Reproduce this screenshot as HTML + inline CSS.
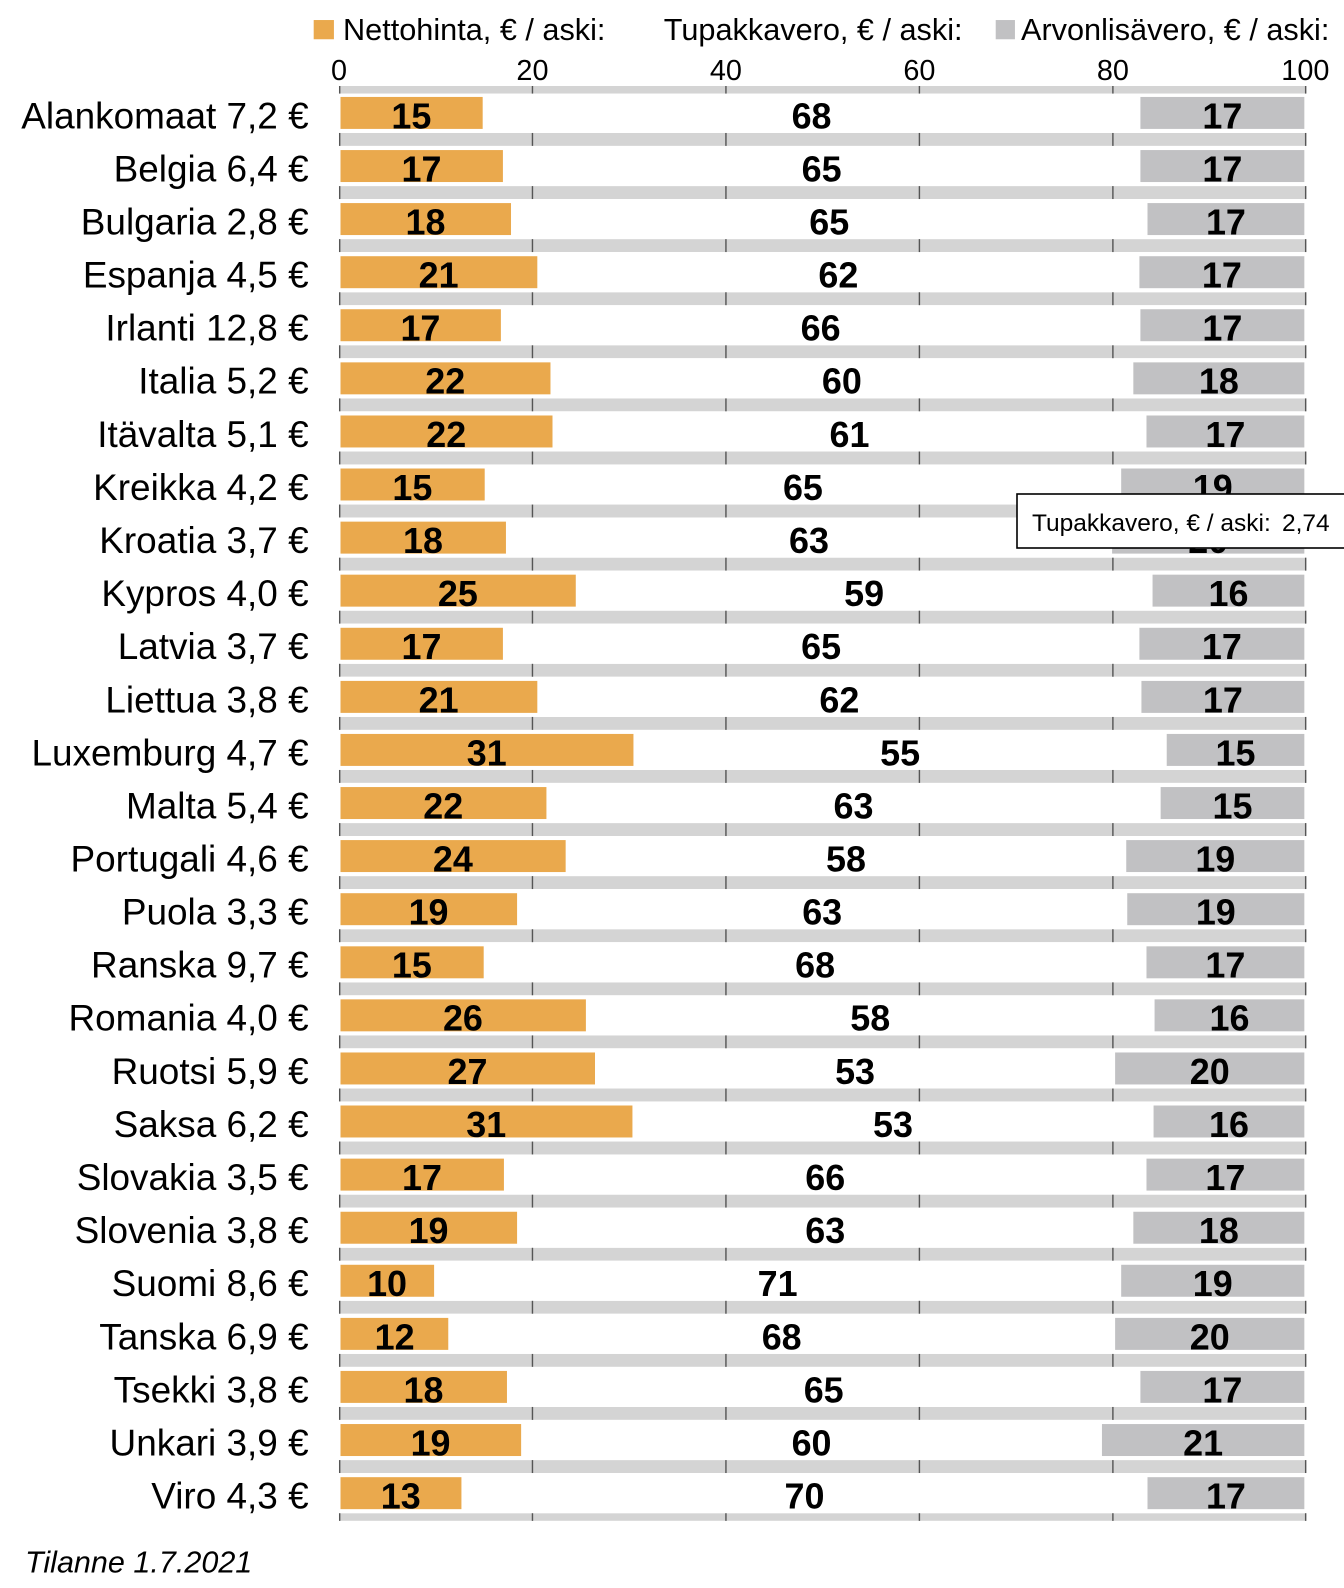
<!DOCTYPE html>
<html><head><meta charset="utf-8"><style>
html,body{margin:0;padding:0;background:#fff;}
svg{display:block;font-family:"Liberation Sans",Arial,sans-serif;}
.c{font-size:36.5px;text-anchor:end;}
.v{font-size:35.5px;font-weight:bold;text-anchor:middle;}
.o{fill:#eaa94d;}
.g{fill:#c1c1c3;}
</style></head><body>
<svg width="1344" height="1588" viewBox="0 0 1344 1588" xmlns="http://www.w3.org/2000/svg">
<rect width="1344" height="1588" fill="#fff"/>
<g transform="scale(1.0119)">
<rect x="310" y="19.8" width="20" height="19" fill="#eaa94d"/>
<text x="339" y="39.5" font-size="30.3">Nettohinta, € / aski:</text>
<text x="656" y="39.5" font-size="30.3">Tupakkavero, € / aski:</text>
<rect x="984" y="19.8" width="19" height="19" fill="#c1c1c3"/>
<text x="1009" y="39.5" font-size="30.3">Arvonlisävero, € / aski:</text>
<g font-size="28.5" text-anchor="middle">
<text x="335" y="79">0</text><text x="526.2" y="79">20</text><text x="717.4" y="79">40</text><text x="908.6" y="79">60</text><text x="1099.8" y="79">80</text><text x="1290" y="79">100</text>
</g>
<rect x="335" y="85" width="956" height="7.5" fill="#d4d4d4"/>
<g fill="#d4d4d4">
<rect x="335" y="131.4" width="956" height="12.8"/>
<rect x="335" y="183.9" width="956" height="12.8"/>
<rect x="335" y="236.3" width="956" height="12.8"/>
<rect x="335" y="288.8" width="956" height="12.8"/>
<rect x="335" y="341.2" width="956" height="12.8"/>
<rect x="335" y="393.7" width="956" height="12.8"/>
<rect x="335" y="446.2" width="956" height="12.8"/>
<rect x="335" y="498.6" width="956" height="12.8"/>
<rect x="335" y="551.1" width="956" height="12.8"/>
<rect x="335" y="603.5" width="956" height="12.8"/>
<rect x="335" y="656.0" width="956" height="12.8"/>
<rect x="335" y="708.5" width="956" height="12.8"/>
<rect x="335" y="760.9" width="956" height="12.8"/>
<rect x="335" y="813.4" width="956" height="12.8"/>
<rect x="335" y="865.8" width="956" height="12.8"/>
<rect x="335" y="918.3" width="956" height="12.8"/>
<rect x="335" y="970.8" width="956" height="12.8"/>
<rect x="335" y="1023.2" width="956" height="12.8"/>
<rect x="335" y="1075.7" width="956" height="12.8"/>
<rect x="335" y="1128.1" width="956" height="12.8"/>
<rect x="335" y="1180.6" width="956" height="12.8"/>
<rect x="335" y="1233.1" width="956" height="12.8"/>
<rect x="335" y="1285.5" width="956" height="12.8"/>
<rect x="335" y="1338.0" width="956" height="12.8"/>
<rect x="335" y="1390.4" width="956" height="12.8"/>
<rect x="335" y="1442.9" width="956" height="12.8"/>
<rect x="335" y="1495.4" width="956" height="7.5"/>
</g>
<g stroke="#555" stroke-width="1.4">
<line x1="335.7" y1="85" x2="335.7" y2="1503"/><line x1="526.2" y1="85" x2="526.2" y2="1503"/><line x1="717.4" y1="85" x2="717.4" y2="1503"/><line x1="908.6" y1="85" x2="908.6" y2="1503"/><line x1="1099.8" y1="85" x2="1099.8" y2="1503"/><line x1="1290.3" y1="85" x2="1290.3" y2="1503"/>
</g>
<g fill="#fff">
<rect x="330" y="92.5" width="965" height="38.9"/>
<rect x="330" y="144.2" width="965" height="39.7"/>
<rect x="330" y="196.7" width="965" height="39.6"/>
<rect x="330" y="249.1" width="965" height="39.7"/>
<rect x="330" y="301.6" width="965" height="39.6"/>
<rect x="330" y="354.0" width="965" height="39.7"/>
<rect x="330" y="406.5" width="965" height="39.7"/>
<rect x="330" y="459.0" width="965" height="39.6"/>
<rect x="330" y="511.4" width="965" height="39.7"/>
<rect x="330" y="563.9" width="965" height="39.6"/>
<rect x="330" y="616.3" width="965" height="39.7"/>
<rect x="330" y="668.8" width="965" height="39.7"/>
<rect x="330" y="721.3" width="965" height="39.6"/>
<rect x="330" y="773.7" width="965" height="39.7"/>
<rect x="330" y="826.2" width="965" height="39.6"/>
<rect x="330" y="878.6" width="965" height="39.7"/>
<rect x="330" y="931.1" width="965" height="39.7"/>
<rect x="330" y="983.6" width="965" height="39.6"/>
<rect x="330" y="1036.0" width="965" height="39.7"/>
<rect x="330" y="1088.5" width="965" height="39.6"/>
<rect x="330" y="1140.9" width="965" height="39.7"/>
<rect x="330" y="1193.4" width="965" height="39.7"/>
<rect x="330" y="1245.9" width="965" height="39.6"/>
<rect x="330" y="1298.3" width="965" height="39.7"/>
<rect x="330" y="1350.8" width="965" height="39.6"/>
<rect x="330" y="1403.2" width="965" height="39.7"/>
<rect x="330" y="1455.7" width="965" height="39.7"/>
</g>

<g transform="translate(0,95.8)"><text class="c" x="305" y="31">Alankomaat 7,2 €</text><rect class="o" x="336.5" y="0" width="140.5" height="31.6"/><rect class="g" x="1127" y="0" width="162" height="31.6"/><text class="v" x="406.5" y="31">15</text><text class="v" x="802" y="31">68</text><text class="v" x="1208" y="31">17</text></g>
<g transform="translate(0,148.3)"><text class="c" x="305" y="31">Belgia 6,4 €</text><rect class="o" x="336.5" y="0" width="160.5" height="31.6"/><rect class="g" x="1127" y="0" width="162" height="31.6"/><text class="v" x="416.5" y="31">17</text><text class="v" x="812" y="31">65</text><text class="v" x="1208" y="31">17</text></g>
<g transform="translate(0,200.7)"><text class="c" x="305" y="31">Bulgaria 2,8 €</text><rect class="o" x="336.5" y="0" width="168.5" height="31.6"/><rect class="g" x="1134" y="0" width="155" height="31.6"/><text class="v" x="420.5" y="31">18</text><text class="v" x="819.5" y="31">65</text><text class="v" x="1211.5" y="31">17</text></g>
<g transform="translate(0,253.2)"><text class="c" x="305" y="31">Espanja 4,5 €</text><rect class="o" x="336.5" y="0" width="194.5" height="31.6"/><rect class="g" x="1126" y="0" width="163" height="31.6"/><text class="v" x="433.5" y="31">21</text><text class="v" x="828.5" y="31">62</text><text class="v" x="1207.5" y="31">17</text></g>
<g transform="translate(0,305.6)"><text class="c" x="305" y="31">Irlanti 12,8 €</text><rect class="o" x="336.5" y="0" width="158.5" height="31.6"/><rect class="g" x="1127" y="0" width="162" height="31.6"/><text class="v" x="415.5" y="31">17</text><text class="v" x="811" y="31">66</text><text class="v" x="1208" y="31">17</text></g>
<g transform="translate(0,358.1)"><text class="c" x="305" y="31">Italia 5,2 €</text><rect class="o" x="336.5" y="0" width="207.5" height="31.6"/><rect class="g" x="1120" y="0" width="169" height="31.6"/><text class="v" x="440" y="31">22</text><text class="v" x="832" y="31">60</text><text class="v" x="1204.5" y="31">18</text></g>
<g transform="translate(0,410.6)"><text class="c" x="305" y="31">Itävalta 5,1 €</text><rect class="o" x="336.5" y="0" width="209.5" height="31.6"/><rect class="g" x="1133" y="0" width="156" height="31.6"/><text class="v" x="441" y="31">22</text><text class="v" x="839.5" y="31">61</text><text class="v" x="1211" y="31">17</text></g>
<g transform="translate(0,463.0)"><text class="c" x="305" y="31">Kreikka 4,2 €</text><rect class="o" x="336.5" y="0" width="142.5" height="31.6"/><rect class="g" x="1108" y="0" width="181" height="31.6"/><text class="v" x="407.5" y="31">15</text><text class="v" x="793.5" y="31">65</text><text class="v" x="1198.5" y="31">19</text></g>
<g transform="translate(0,515.5)"><text class="c" x="305" y="31">Kroatia 3,7 €</text><rect class="o" x="336.5" y="0" width="163.5" height="31.6"/><rect class="g" x="1099" y="0" width="190" height="31.6"/><text class="v" x="418" y="31">18</text><text class="v" x="799.5" y="31">63</text><text class="v" x="1194" y="31">20</text></g>
<g transform="translate(0,567.9)"><text class="c" x="305" y="31">Kypros 4,0 €</text><rect class="o" x="336.5" y="0" width="232.5" height="31.6"/><rect class="g" x="1139" y="0" width="150" height="31.6"/><text class="v" x="452.5" y="31">25</text><text class="v" x="854" y="31">59</text><text class="v" x="1214" y="31">16</text></g>
<g transform="translate(0,620.4)"><text class="c" x="305" y="31">Latvia 3,7 €</text><rect class="o" x="336.5" y="0" width="160.5" height="31.6"/><rect class="g" x="1126" y="0" width="163" height="31.6"/><text class="v" x="416.5" y="31">17</text><text class="v" x="811.5" y="31">65</text><text class="v" x="1207.5" y="31">17</text></g>
<g transform="translate(0,672.9)"><text class="c" x="305" y="31">Liettua 3,8 €</text><rect class="o" x="336.5" y="0" width="194.5" height="31.6"/><rect class="g" x="1128" y="0" width="161" height="31.6"/><text class="v" x="433.5" y="31">21</text><text class="v" x="829.5" y="31">62</text><text class="v" x="1208.5" y="31">17</text></g>
<g transform="translate(0,725.3)"><text class="c" x="305" y="31">Luxemburg 4,7 €</text><rect class="o" x="336.5" y="0" width="289.5" height="31.6"/><rect class="g" x="1153" y="0" width="136" height="31.6"/><text class="v" x="481" y="31">31</text><text class="v" x="889.5" y="31">55</text><text class="v" x="1221" y="31">15</text></g>
<g transform="translate(0,777.8)"><text class="c" x="305" y="31">Malta 5,4 €</text><rect class="o" x="336.5" y="0" width="203.5" height="31.6"/><rect class="g" x="1147" y="0" width="142" height="31.6"/><text class="v" x="438" y="31">22</text><text class="v" x="843.5" y="31">63</text><text class="v" x="1218" y="31">15</text></g>
<g transform="translate(0,830.2)"><text class="c" x="305" y="31">Portugali 4,6 €</text><rect class="o" x="336.5" y="0" width="222.5" height="31.6"/><rect class="g" x="1113" y="0" width="176" height="31.6"/><text class="v" x="447.5" y="31">24</text><text class="v" x="836" y="31">58</text><text class="v" x="1201" y="31">19</text></g>
<g transform="translate(0,882.7)"><text class="c" x="305" y="31">Puola 3,3 €</text><rect class="o" x="336.5" y="0" width="174.5" height="31.6"/><rect class="g" x="1114" y="0" width="175" height="31.6"/><text class="v" x="423.5" y="31">19</text><text class="v" x="812.5" y="31">63</text><text class="v" x="1201.5" y="31">19</text></g>
<g transform="translate(0,935.2)"><text class="c" x="305" y="31">Ranska 9,7 €</text><rect class="o" x="336.5" y="0" width="141.5" height="31.6"/><rect class="g" x="1133" y="0" width="156" height="31.6"/><text class="v" x="407" y="31">15</text><text class="v" x="805.5" y="31">68</text><text class="v" x="1211" y="31">17</text></g>
<g transform="translate(0,987.6)"><text class="c" x="305" y="31">Romania 4,0 €</text><rect class="o" x="336.5" y="0" width="242.5" height="31.6"/><rect class="g" x="1141" y="0" width="148" height="31.6"/><text class="v" x="457.5" y="31">26</text><text class="v" x="860" y="31">58</text><text class="v" x="1215" y="31">16</text></g>
<g transform="translate(0,1040.1)"><text class="c" x="305" y="31">Ruotsi 5,9 €</text><rect class="o" x="336.5" y="0" width="251.5" height="31.6"/><rect class="g" x="1102" y="0" width="187" height="31.6"/><text class="v" x="462" y="31">27</text><text class="v" x="845" y="31">53</text><text class="v" x="1195.5" y="31">20</text></g>
<g transform="translate(0,1092.5)"><text class="c" x="305" y="31">Saksa 6,2 €</text><rect class="o" x="336.5" y="0" width="288.5" height="31.6"/><rect class="g" x="1140" y="0" width="149" height="31.6"/><text class="v" x="480.5" y="31">31</text><text class="v" x="882.5" y="31">53</text><text class="v" x="1214.5" y="31">16</text></g>
<g transform="translate(0,1145.0)"><text class="c" x="305" y="31">Slovakia 3,5 €</text><rect class="o" x="336.5" y="0" width="161.5" height="31.6"/><rect class="g" x="1133" y="0" width="156" height="31.6"/><text class="v" x="417" y="31">17</text><text class="v" x="815.5" y="31">66</text><text class="v" x="1211" y="31">17</text></g>
<g transform="translate(0,1197.5)"><text class="c" x="305" y="31">Slovenia 3,8 €</text><rect class="o" x="336.5" y="0" width="174.5" height="31.6"/><rect class="g" x="1120" y="0" width="169" height="31.6"/><text class="v" x="423.5" y="31">19</text><text class="v" x="815.5" y="31">63</text><text class="v" x="1204.5" y="31">18</text></g>
<g transform="translate(0,1249.9)"><text class="c" x="305" y="31">Suomi 8,6 €</text><rect class="o" x="336.5" y="0" width="92.5" height="31.6"/><rect class="g" x="1108" y="0" width="181" height="31.6"/><text class="v" x="382.5" y="31">10</text><text class="v" x="768.5" y="31">71</text><text class="v" x="1198.5" y="31">19</text></g>
<g transform="translate(0,1302.4)"><text class="c" x="305" y="31">Tanska 6,9 €</text><rect class="o" x="336.5" y="0" width="106.5" height="31.6"/><rect class="g" x="1102" y="0" width="187" height="31.6"/><text class="v" x="390" y="31">12</text><text class="v" x="772.5" y="31">68</text><text class="v" x="1195.5" y="31">20</text></g>
<g transform="translate(0,1354.8)"><text class="c" x="305" y="31">Tsekki 3,8 €</text><rect class="o" x="336.5" y="0" width="164.5" height="31.6"/><rect class="g" x="1127" y="0" width="162" height="31.6"/><text class="v" x="418.5" y="31">18</text><text class="v" x="814" y="31">65</text><text class="v" x="1208" y="31">17</text></g>
<g transform="translate(0,1407.3)"><text class="c" x="305" y="31">Unkari 3,9 €</text><rect class="o" x="336.5" y="0" width="178.5" height="31.6"/><rect class="g" x="1089" y="0" width="200" height="31.6"/><text class="v" x="425.5" y="31">19</text><text class="v" x="802" y="31">60</text><text class="v" x="1189" y="31">21</text></g>
<g transform="translate(0,1459.8)"><text class="c" x="305" y="31">Viro 4,3 €</text><rect class="o" x="336.5" y="0" width="119.5" height="31.6"/><rect class="g" x="1134" y="0" width="155" height="31.6"/><text class="v" x="396" y="31">13</text><text class="v" x="795" y="31">70</text><text class="v" x="1211.5" y="31">17</text></g>

<text x="24.7" y="1554" font-size="30.2" font-style="italic">Tilanne 1.7.2021</text>
</g>
<rect x="1017" y="494" width="340" height="54" fill="#fff" stroke="#000" stroke-width="1.6"/>
<text x="1032" y="531" font-size="24.5">Tupakkavero, € / aski:</text>
<text x="1282" y="531" font-size="24.5">2,74</text>
</svg>
</body></html>
